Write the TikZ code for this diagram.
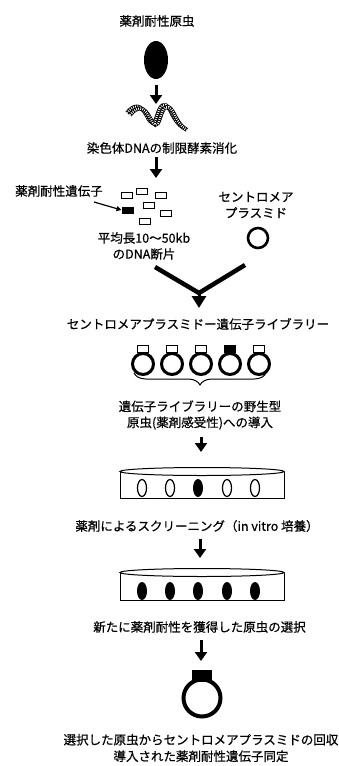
\documentclass[tikz,border=0pt]{standalone}
\usepackage{fontspec}
\newfontfamily\jpfont{Noto Sans CJK JP}[FakeBold=0.5]
\usetikzlibrary{positioning,shapes.geometric,decorations.pathreplacing,arrows.meta}
\tikzset{
caption/.style={font=\jpfont\fontsize{12.5}{16}\selectfont,align=center,inner sep=1pt},
flow/.style={-{Triangle[width=12pt,length=9pt]},line width=3pt},
vbar/.style={line width=4.5pt},
frag/.style={draw,line width=0.9pt,minimum width=11pt,minimum height=6pt,inner sep=0pt},
fragR/.style={frag,fill=black},
ring/.style={line width=3pt},
tab/.style={draw,fill=white,line width=0.8pt,minimum width=11pt,minimum height=7pt,inner sep=0pt},
tabR/.style={tab,fill=black},
dish/.style={line width=1pt},
colony/.style={line width=1.2pt},
strand/.style={line width=4pt},
stripe/.style={white,line width=2.4pt,dash pattern=on 0.8pt off 1.3pt}
}
\newcommand{\helixpath}{(127,113) .. controls (134,104) and (141,104) .. (147,116) .. controls (151,124) and (154,126) .. (157,116) .. controls (160,106) and (164,100) .. (170,110) .. controls (174,118) and (178,125) .. (184,128)}

\begin{document}
\begin{tikzpicture}[x=1pt,y=-1pt]
\fill[white] (0,0) rectangle (338,766);
\useasboundingbox (0,0) rectangle (338,766);

% parasite and its chromosomal DNA
\node[caption] (src) at (157,21) {薬剤耐性原虫};
\node[ellipse,fill=black,minimum width=24pt,minimum height=38pt,inner sep=0pt] (cell) at (156,60) {};
\coordinate (dna) at (156,104);
\draw[flow,shorten <=6pt] (cell) -- (dna);
\draw[strand] \helixpath;
\draw[stripe] \helixpath;
\draw[strand] [xshift=3pt,yshift=-2pt] \helixpath;
\draw[stripe] [xshift=3pt,yshift=-2pt] \helixpath;
\node[caption] (digest) at (162,148) {染色体DNAの制限酵素消化};
\coordinate (fragtop) at (156,178);
\draw[flow,shorten <=2pt] (digest.south -| fragtop) -- (fragtop);

% fragments
\node[frag] (f1) at (127,195) {};
\node[frag] (f2) at (142,191) {};
\node[frag] (f3) at (161,195) {};
\node[frag] (f4) at (148.5,205) {};
\node[frag] (f5) at (165.5,213) {};
\node[frag] (f6) at (145,221) {};
\node[fragR] (resfrag) at (127.5,210) {};
\node[caption] (gene) at (59,191) {薬剤耐性遺伝子};
\draw[-{Triangle[width=5pt,length=5pt]},line width=1.2pt] ([xshift=-10pt,yshift=-4pt]gene.south east) -- (resfrag.west);
\node[caption] (fragtxt) at (144,246) {平均長10〜50kb\\のDNA断片};

% centromere plasmid
\node[caption] (cen) at (256,205) {セントロメア\\プラスミド};
\draw[ring,line width=2.6pt] (258,238) circle [radius=10];

% joining
\coordinate (vl) at (155,267);
\coordinate (vr) at (245,265);
\coordinate (join) at (199,293);
\coordinate (libtop) at (199,308);
\draw[vbar] (vl) -- (join) -- (vr);
\draw[flow,-{Triangle[width=14pt,length=12pt]}] (join) -- (libtop);

% library
\node[caption] (lib) at (198,324) {セントロメアプラスミドー遺伝子ライブラリー};
\foreach \i in {0,...,4}{
  \draw[ring] (143+29*\i,364) circle [radius=10.5];
}
\foreach \i/\s in {0/tab,1/tab,2/tab,3/tabR,4/tab}{
  \node[\s] (t\i) at (143+29*\i,349) {};
}
\draw[line width=1pt,decorate,decoration={brace,mirror,amplitude=12pt}] (134,373) -- (266,373);
\node[caption] (intro) at (200,415) {遺伝子ライブラリーの野生型\\原虫(薬剤感受性)への導入};
\coordinate (dishA) at (201,452);
\draw[flow,shorten <=6pt] (intro.south -| dishA) -- (dishA);

% culture before screening
\draw[dish] (120,471.5) -- (120,498) -- (284,498) -- (284,471.5);
\draw[dish] (202,471.5) ellipse [x radius=82, y radius=4];
\foreach \x in {142,170,227,255}{
  \draw[colony] (\x,488) ellipse [x radius=4.5, y radius=8.5];
}
\fill (198,488) ellipse [x radius=5, y radius=9];
\node[caption] (screen) at (197,526) {薬剤によるスクリーニング（in vitro 培養）};
\coordinate (dishB) at (200,558);
\draw[flow,shorten <=6pt] (screen.south -| dishB) -- (dishB);

% culture after screening
\draw[dish] (120,572.5) -- (120,600) -- (284,600) -- (284,572.5);
\draw[dish] (202,572.5) ellipse [x radius=82, y radius=4];
\foreach \x in {142,170,198,227,255}{
  \fill (\x,591) ellipse [x radius=5, y radius=9];
}
\node[caption] (select) at (199.5,627) {新たに薬剤耐性を獲得した原虫の選択};
\coordinate (ringtop) at (201,661);
\draw[flow,shorten <=6pt] (select.south -| ringtop) -- (ringtop);

% recovered plasmid
\draw[ring,line width=4pt] (202,698) circle [radius=18.5];
\node[tabR,minimum width=19pt,minimum height=11pt] (gettab) at (202,675.5) {};
\node[caption,font=\jpfont\fontsize{12.5}{16.5}\selectfont] (final) at (201,748) {選択した原虫からセントロメアプラスミドの回収\\導入された薬剤耐性遺伝子同定};
\end{tikzpicture}
\end{document}
